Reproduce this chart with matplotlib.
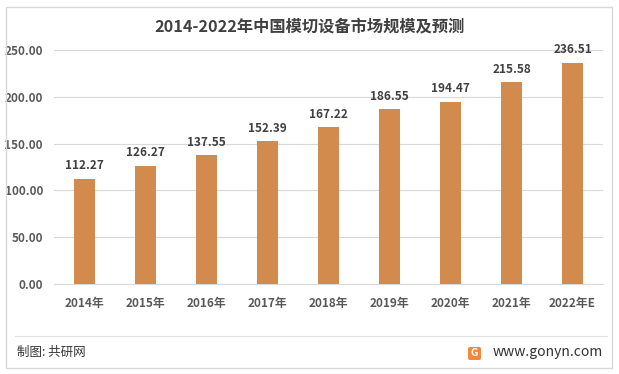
import matplotlib.pyplot as plt
from matplotlib.patches import Rectangle, FancyBboxPatch

plt.rcParams['font.family'] = ['Noto Sans CJK SC', 'DejaVu Sans']

years = ['2014年', '2015年', '2016年', '2017年', '2018年', '2019年', '2020年', '2021年', '2022年E']
values = [112.27, 126.27, 137.55, 152.39, 167.22, 186.55, 194.47, 215.58, 236.51]
yticks = [0, 50, 100, 150, 200, 250]

W, H = 619, 374
fig = plt.figure(figsize=(W / 100, H / 100), dpi=100)

# outer frame
fig.patches.append(Rectangle((6 / W, 1 - 368 / H), 606 / W, 361 / H, transform=fig.transFigure,
                             fill=False, edgecolor='#d9d9d9', linewidth=1))

ax = fig.add_axes([54 / W, 1 - 284 / H, 549 / W, 234 / H])
x = range(len(years))
ax.bar(x, values, width=0.33, color='#d38b4d', zorder=3)
for xi, v in zip(x, values):
    ax.text(xi, v + 7, f'{v:.2f}', ha='center', va='bottom', fontsize=8.5,
            fontweight='bold', color='#404040', clip_on=False)

ax.set_xlim(-0.5, len(years) - 0.5)
ax.set_ylim(0, 250)
ax.set_yticks(yticks)
ax.set_yticklabels([f'{t:.2f}' for t in yticks], fontsize=8.5, fontweight='bold', color='#595959')
ax.set_xticks(list(x))
ax.set_xticklabels(years, fontsize=8.5, fontweight='bold', color='#595959')
ax.tick_params(axis='x', length=0, pad=9)
ax.tick_params(axis='y', length=0, pad=8)
ax.grid(axis='y', color='#d9d9d9', linewidth=0.8, zorder=0)
for s in ['top', 'right', 'left']:
    ax.spines[s].set_visible(False)
ax.spines['bottom'].set_color('#d9d9d9')

fig.text(310 / W, 1 - 26 / H, '2014-2022年中国模切设备市场规模及预测', ha='center', va='center',
         fontsize=11.7, fontweight='bold', color='#404040')

# footer
fig.add_artist(plt.Line2D([15 / W, 607 / W], [1 - 336 / H, 1 - 336 / H], color='#e0e0e0', linewidth=0.8))
fig.text(17 / W, 1 - 352 / H, '制图: 共研网', ha='left', va='center', fontsize=9, color='#333333')
fig.text(603 / W, 1 - 352 / H, 'www.gonyn.com', ha='right', va='center', fontsize=10, color='#333333')
fig.patches.append(FancyBboxPatch((468 / W, 1 - 360 / H), 13 / W, 13 / H, transform=fig.transFigure,
                                  boxstyle='round,pad=0,rounding_size=0.004', facecolor='#f3883a',
                                  edgecolor='none'))
fig.text(474.5 / W, 1 - 353.5 / H, 'G', ha='center', va='center', fontsize=7.5, fontweight='bold',
         color='white')

fig.savefig('out.png', dpi=100)
